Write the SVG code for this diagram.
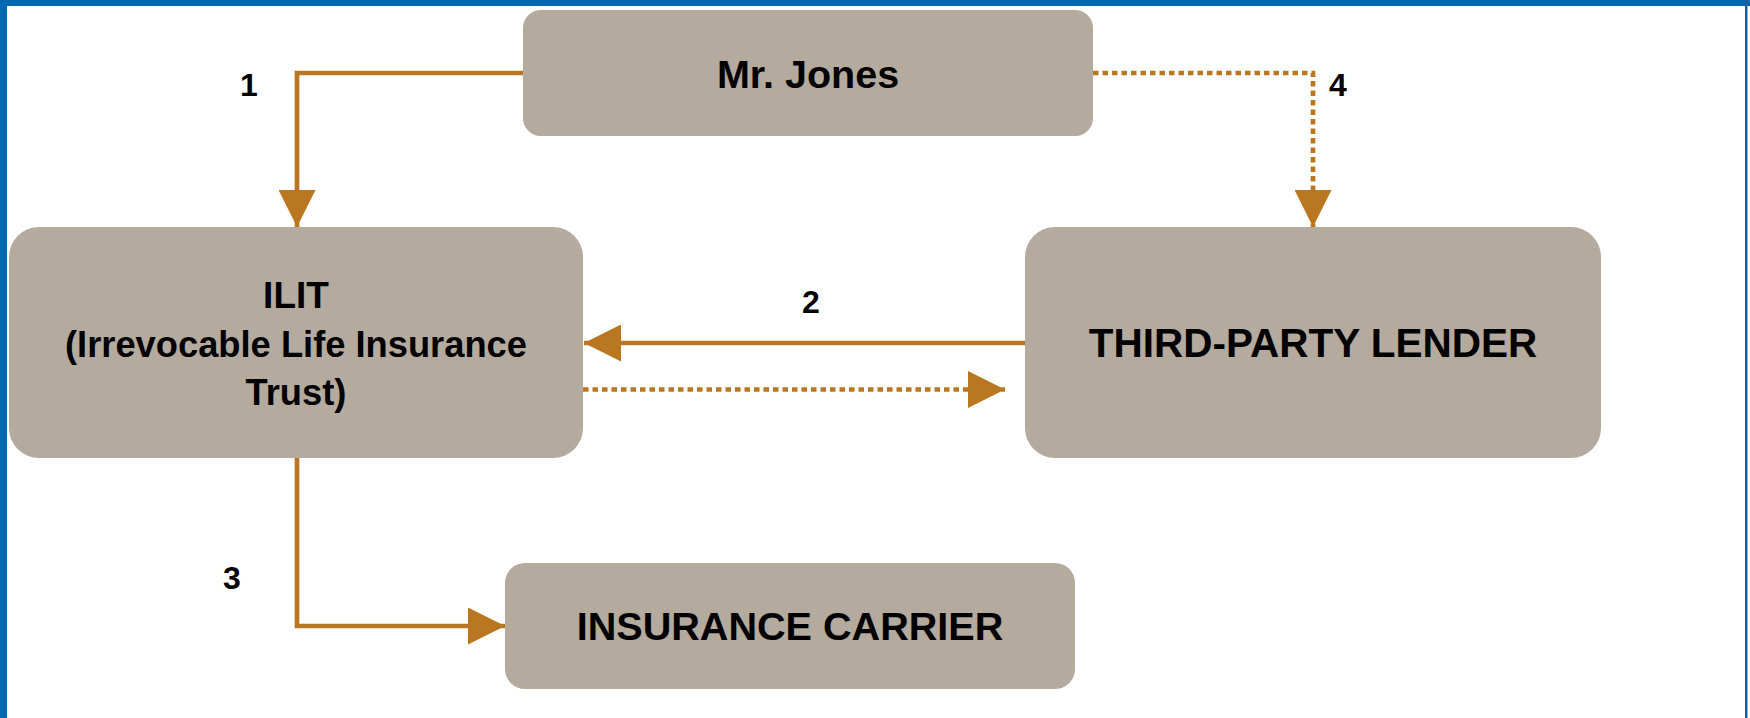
<svg xmlns="http://www.w3.org/2000/svg" width="1750" height="718" viewBox="0 0 1750 718">
  <style>
    .node { fill: #b4aa9e; }
    .title { font-family: "Liberation Sans", Arial, sans-serif; font-weight: bold; fill: #000; text-anchor: middle; }
    .lbl { font-family: "Liberation Sans", Arial, sans-serif; font-weight: bold; font-size: 32px; fill: #000; text-anchor: middle; }
    .conn { fill: none; stroke: #b97721; stroke-width: 4.7; }
    .dot { stroke-dasharray: 5.5 4; }
  </style>
  <defs>
    <marker id="arrow" markerUnits="userSpaceOnUse" markerWidth="37" markerHeight="37" viewBox="0 0 37 37" refX="37" refY="18.5" orient="auto">
      <path d="M0,0 L37,18.5 L0,37 Z" fill="#b97721"/>
    </marker>
  </defs>
  <rect x="0" y="0" width="1750" height="718" fill="#ffffff"/>
  <rect x="0" y="0" width="1750" height="6" fill="#0068b0"/>
  <rect x="0" y="0" width="7" height="718" fill="#0068b0"/>
  <rect x="1745" y="0" width="2.5" height="718" fill="#215a96"/>

  <g id="connectors">
    <path class="conn" d="M523,73 H297 V227" marker-end="url(#arrow)"/>
    <path class="conn dot" d="M1093,73 H1313 V227" marker-end="url(#arrow)"/>
    <path class="conn" d="M1025,343 H584" marker-end="url(#arrow)"/>
    <path class="conn dot" d="M583,389.5 H1005" marker-end="url(#arrow)"/>
    <path class="conn" d="M297,456 V626 H505" marker-end="url(#arrow)"/>
    <text class="lbl" x="249" y="96">1</text>
    <text class="lbl" x="811" y="313">2</text>
    <text class="lbl" x="232" y="589">3</text>
    <text class="lbl" x="1338" y="96">4</text>
  </g>

  <g id="mr-jones">
    <rect class="node" x="523" y="10" width="570" height="126" rx="18" ry="18"/>
    <text class="title" x="808" y="88" font-size="39.5">Mr. Jones</text>
  </g>
  <g id="ilit">
    <rect class="node" x="9" y="227" width="574" height="231" rx="30" ry="30"/>
    <text class="title" x="296" y="308" font-size="37">ILIT</text>
    <text class="title" x="296" y="357" font-size="36.3">(Irrevocable Life Insurance</text>
    <text class="title" x="296" y="405" font-size="36.3">Trust)</text>
  </g>
  <g id="third-party-lender">
    <rect class="node" x="1025" y="227" width="576" height="231" rx="30" ry="30"/>
    <text class="title" x="1313" y="357" font-size="40.5">THIRD-PARTY LENDER</text>
  </g>
  <g id="insurance-carrier">
    <rect class="node" x="505" y="563" width="570" height="126" rx="20" ry="20"/>
    <text class="title" x="790" y="640" font-size="39.6">INSURANCE CARRIER</text>
  </g>
</svg>
